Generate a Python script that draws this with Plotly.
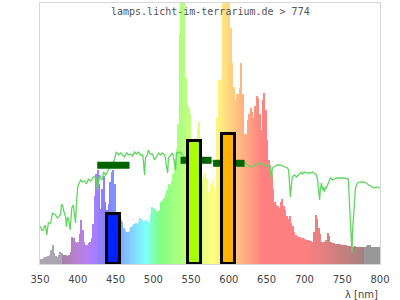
import plotly.graph_objects as go

# ---- data ----
spec_wl = list(range(351, 800, 2))  # 2 nm bins, centres
spec_val = [
    5, 5, 6, 7, 7, 8, 9, 14, 19, 11,
    8, 7, 9, 12, 11, 9, 9, 9, 8, 9,
    12, 27, 26, 22, 21, 22, 30, 44, 34, 22,
    19, 19, 21, 22, 26, 40, 68, 90, 94, 80,
    55, 75, 88, 62, 54, 60, 82, 92, 94, 80,
    52, 48, 46, 44, 42, 36, 33, 32, 32, 33,
    37, 38, 40, 41, 40, 42, 46, 44, 42, 43,
    44, 42, 41, 50, 57, 56, 54, 52, 53, 54,
    62, 64, 66, 70, 74, 80, 79, 83, 90, 105,
    115, 140, 230, 300, 300, 300, 186, 160, 157, 150,
    120, 110, 105, 110, 135, 142, 110, 85, 88, 91,
    85, 72, 74, 80, 85, 77, 71, 147, 184, 184,
    186, 300, 300, 300, 300, 300, 236, 201, 177, 164,
    170, 170, 176, 201, 170, 130, 130, 144, 150, 156,
    152, 146, 158, 168, 166, 150, 134, 164, 171, 154,
    124, 104, 99, 90, 75, 62, 59, 58, 56, 62,
    65, 58, 54, 48, 45, 48, 41, 38, 32, 29,
    28, 27, 27, 26, 26, 25, 24, 24, 24, 23,
    22, 32, 49, 45, 36, 30, 22, 22, 22, 24,
    31, 28, 22, 21, 21, 20, 20, 20, 20, 19,
    19, 19, 19, 18, 18, 18, 17, 17, 18, 17,
    17, 17, 17, 17, 17, 17, 18, 19, 19, 17,
    17, 17, 17, 17, 17,
]

sun_wl = [351, 352, 354, 357, 359, 361, 364, 366.5, 370.5, 373, 377, 378.5, 380, 381,
          384, 385, 386.5, 388, 390, 392, 394, 396, 397, 398.5, 400, 402, 404, 406,
          409, 411.5, 414, 417, 419.5, 421, 423.5, 425, 426, 429, 430, 431.5, 433, 434,
          437, 439, 442, 444.5, 446, 448.5, 451, 454, 456.5, 459, 462, 464.5, 467, 470,
          472.5, 475, 477.5, 480, 483, 486, 487, 488.5, 489.5, 492, 493.5, 496, 499,
          501.5, 504, 507, 509.5, 512, 515, 516, 517.5, 519, 520, 523, 525.5, 528,
          529.5, 530.5, 533, 536, 540, 550, 560, 570, 578, 582, 590, 600, 610, 618,
          622, 628.5, 635, 642, 646, 650, 652.5, 655, 656.5, 657.5, 661.5, 664, 668,
          672, 675, 677.5, 679, 680, 681.5, 683, 684, 687, 689.5, 692, 696, 697.5, 700,
          703, 708, 710.5, 716, 717.5, 718.5, 720, 721, 722.5, 724, 725, 726.5, 728,
          729, 730.5, 733, 734.5, 737, 740, 742.5, 748, 753, 758, 759.5, 761, 762, 763,
          763.5, 765, 766, 767.5, 770, 774, 778, 782, 785, 787.5, 790, 792.5, 795.5,
          798, 800]
sun_val = [38, 34, 34, 39, 29, 41, 41, 51, 49, 46, 49, 59, 59, 54,
           47, 37, 47, 44, 34, 56, 59, 48, 41, 64, 77, 81, 84, 82,
           83, 80, 85, 83, 85, 87, 87, 84, 74, 89, 87, 84, 86, 92,
           89, 92, 97, 100, 101, 104, 112, 109, 111, 109, 107, 111, 109, 110,
           108, 112, 110, 112, 109, 109, 99, 89, 106, 109, 114, 110, 110,
           104, 107, 111, 109, 111, 109, 106, 97, 91, 106, 109, 111, 101,
           94, 111, 111, 112, 107, 106, 105, 104, 103, 102, 103, 103, 102, 101,
           101, 97, 99, 101, 99, 98, 99, 96, 84, 96, 98, 99, 99,
           98, 97, 96, 94, 81, 67, 81, 87, 89, 87, 89, 92, 90, 92,
           91, 91, 92, 89, 84, 74, 64, 74, 81, 74, 77, 72, 77,
           76, 79, 84, 86, 84, 85, 86, 86, 86, 85, 64, 51, 37, 11,
           31, 47, 64, 76, 81, 82, 82, 81, 79, 78, 77, 76, 77,
           76, 76]

band_center = [447, 555, 600]
band_value = [50, 123, 130]
band_colors = ["#0022ff", "#aaff00", "#ffb300"]

ref_start = [425.7, 536, 579.2]
ref_end = [468.5, 577, 620.7]
ref_value = [98.7, 103.7, 100.7]

tick_vals = [350, 400, 450, 500, 550, 600, 650, 700, 750, 800]


def wl_color(w):
    if w < 380:
        return "rgb(172,166,178)"
    if w > 780:
        return "rgb(153,153,153)"
    if w < 440:
        r, g, b = -(w - 440) / 60, 0.0, 1.0
    elif w < 490:
        r, g, b = 0.0, (w - 440) / 50, 1.0
    elif w < 510:
        r, g, b = 0.0, 1.0, -(w - 510) / 20
    elif w < 580:
        r, g, b = (w - 510) / 70, 1.0, 0.0
    elif w < 645:
        r, g, b = 1.0, -(w - 645) / 65, 0.0
    else:
        r, g, b = 1.0, 0.0, 0.0
    if w < 420:
        f = 0.3 + 0.7 * (w - 380) / 40
    elif w > 700:
        f = 0.3 + 0.7 * (780 - w) / 80
    else:
        f = 1.0
    return "rgb(%d,%d,%d)" % tuple(round((c * f * 255 + 255) / 2) for c in (r, g, b))


fig = go.Figure()
fig.add_trace(go.Bar(
    x=spec_wl, y=spec_val, width=2,
    marker=dict(color=[wl_color(w) for w in spec_wl], line=dict(width=0)),
    hoverinfo="skip", showlegend=False,
))
fig.add_trace(go.Scatter(
    x=sun_wl, y=sun_val, mode="lines",
    line=dict(color="rgb(95,215,95)", width=1.3),
    hoverinfo="skip", showlegend=False,
))
for s, e, v in zip(ref_start, ref_end, ref_value):
    fig.add_trace(go.Scatter(
        x=[s, e], y=[v, v], mode="lines",
        line=dict(color="#006400", width=7),
        hoverinfo="skip", showlegend=False,
    ))
fig.add_trace(go.Bar(
    x=band_center, y=band_value, width=17,
    marker=dict(color=band_colors, line=dict(color="black", width=3)),
    xaxis="x2", yaxis="y2", hoverinfo="skip", showlegend=False,
))

fig.update_layout(
    width=400, height=300,
    margin=dict(l=40, r=20, t=3, b=36),
    paper_bgcolor="white", plot_bgcolor="white",
    barmode="overlay", bargap=0,
    xaxis=dict(range=[350, 800], showgrid=False, zeroline=False,
               tickvals=tick_vals, ticks="", ticklabelstandoff=6,
               showline=True, linecolor="#d8d8d8", linewidth=1, mirror=True,
               tickfont=dict(family="DejaVu Sans", size=10, color="#444")),
    yaxis=dict(range=[0, 261], showgrid=False, zeroline=False, showticklabels=False,
               ticks="", showline=True, linecolor="#d8d8d8", linewidth=1, mirror=True),
    xaxis2=dict(range=[350, 800], overlaying="x", visible=False),
    yaxis2=dict(range=[0, 261], overlaying="y", visible=False),
    annotations=[
        dict(text="lamps.licht-im-terrarium.de > 774", xref="paper", yref="paper",
             x=0.5, y=1, xanchor="center", yanchor="top", yshift=-1, showarrow=False,
             font=dict(family="DejaVu Sans Mono", size=10, color="#555")),
        dict(text="λ [nm]", xref="paper", yref="paper", x=1, y=0,
             xanchor="right", yanchor="top", yshift=-23, showarrow=False,
             font=dict(family="DejaVu Sans", size=10, color="#444")),
    ],
)

fig.write_html("out.html")
